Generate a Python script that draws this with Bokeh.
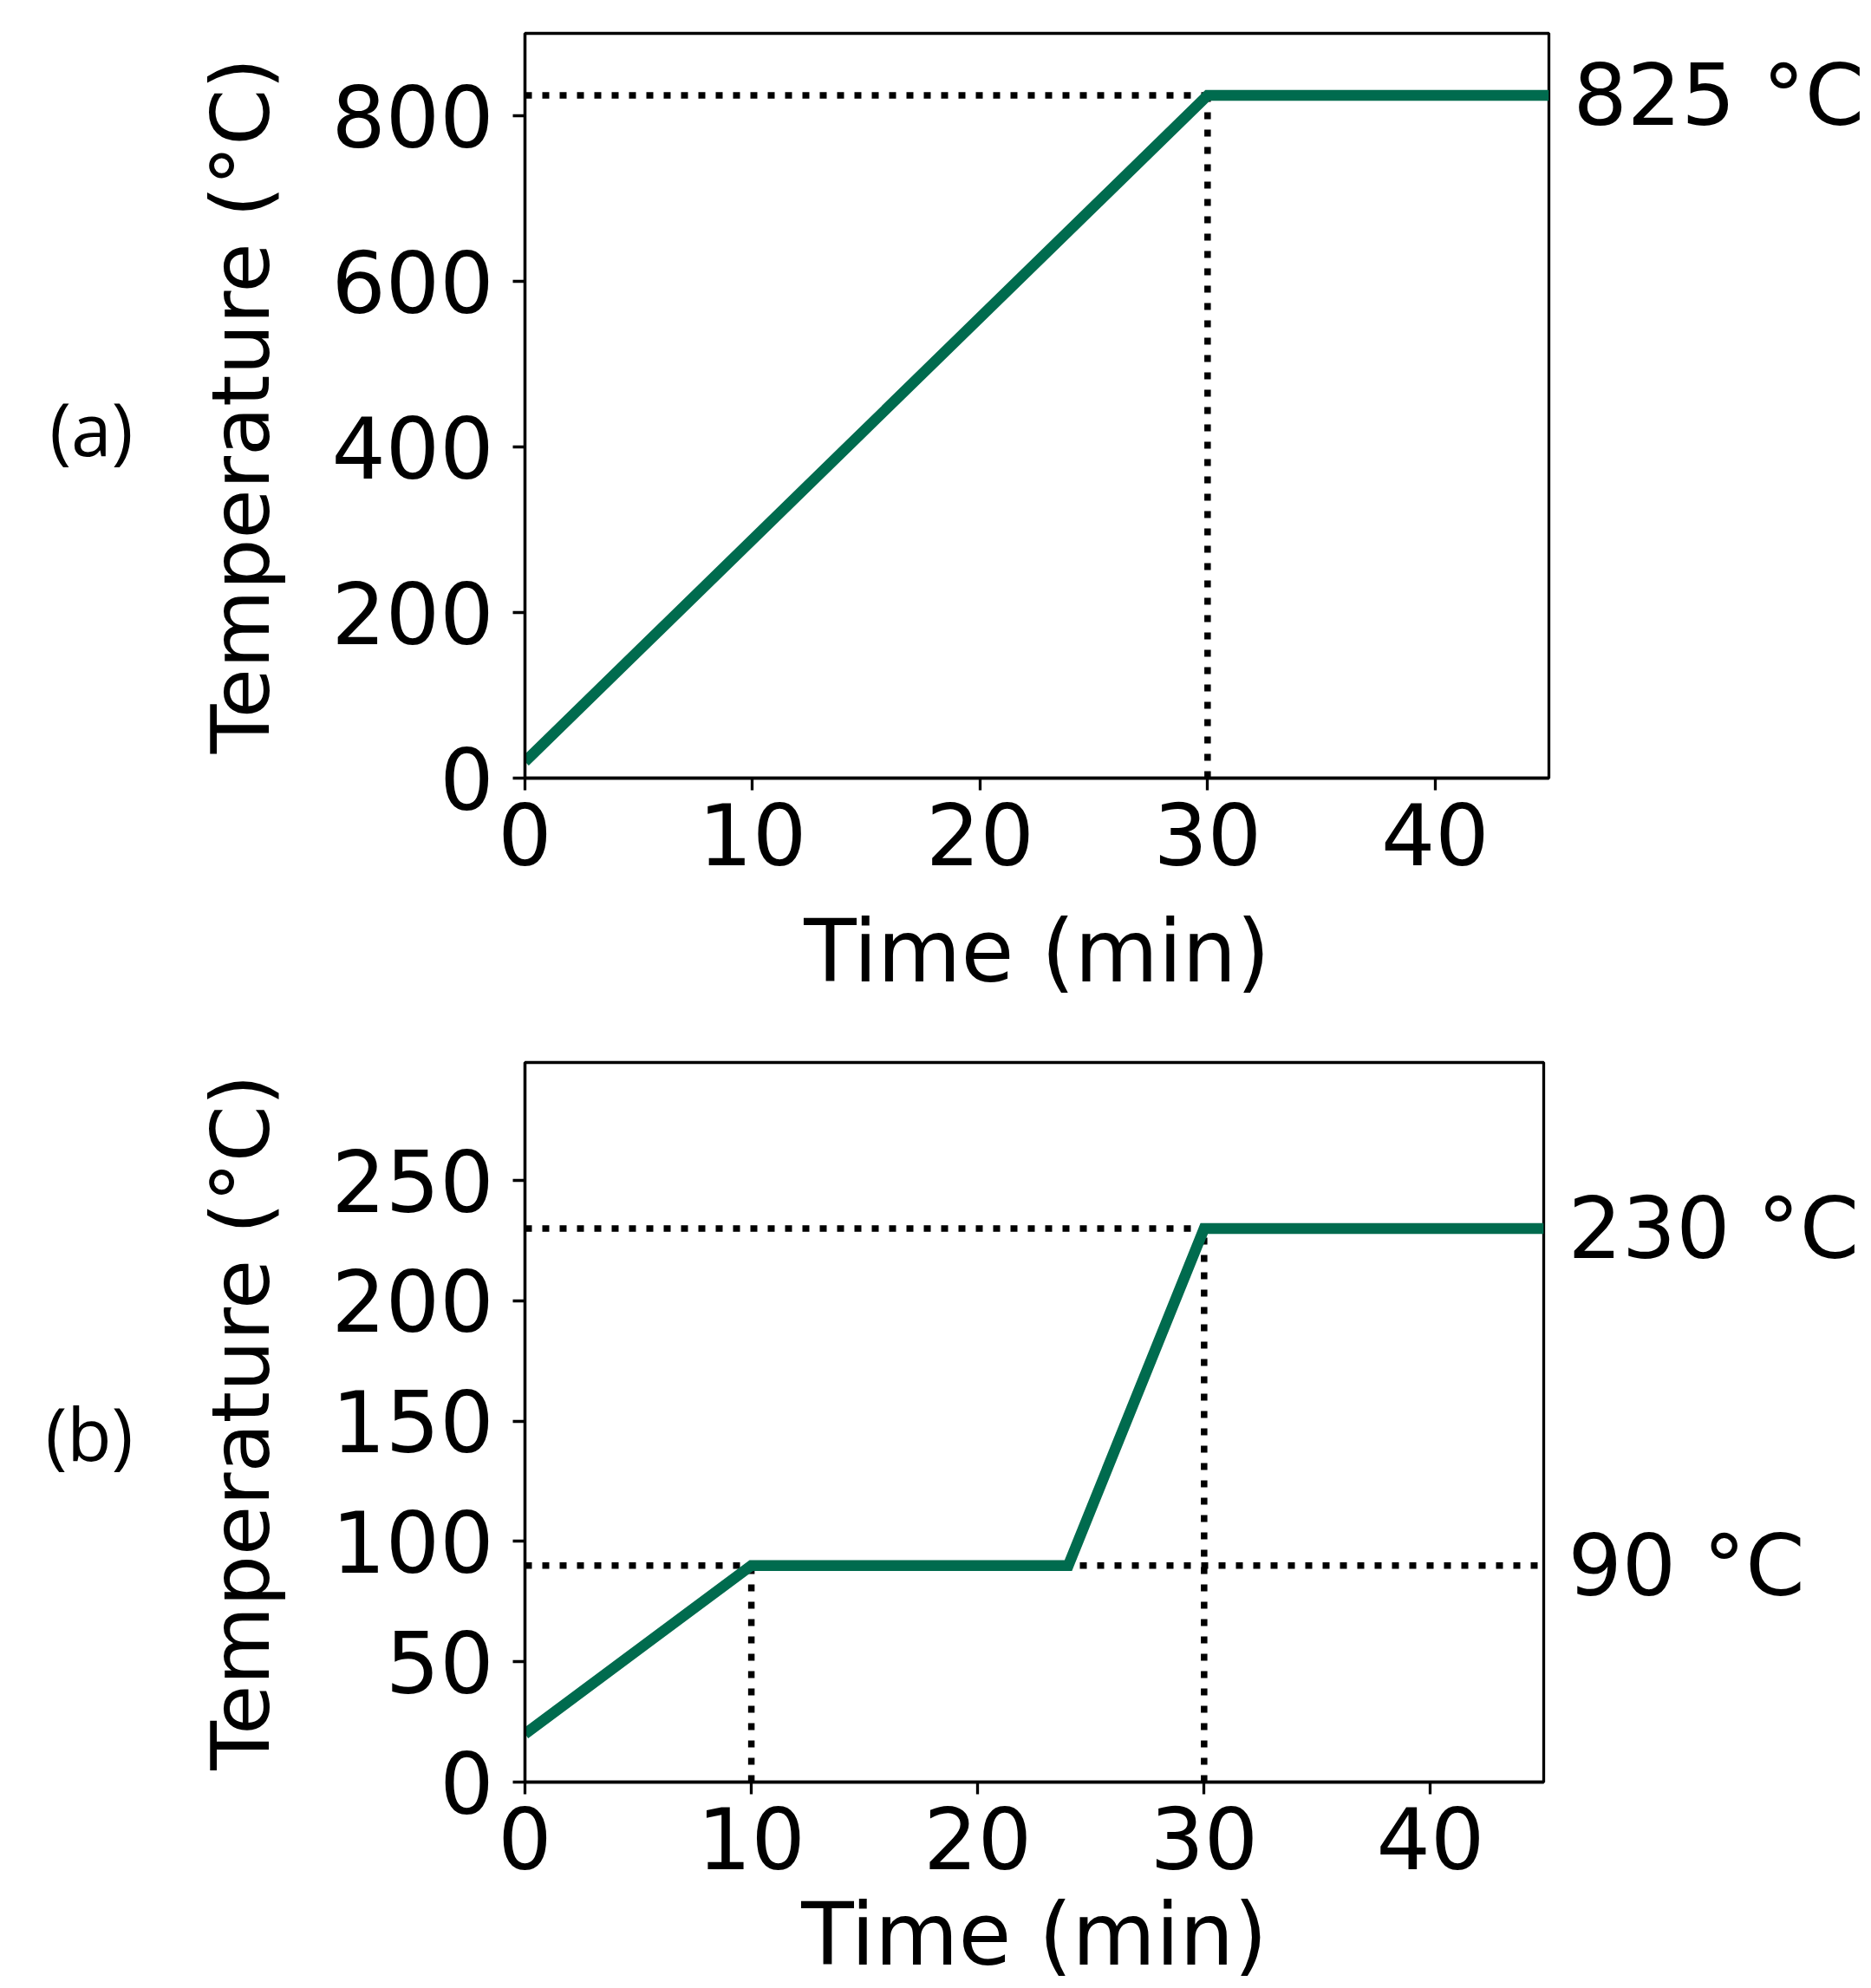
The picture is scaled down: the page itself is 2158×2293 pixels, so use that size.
from bokeh.plotting import figure
from bokeh.models import Range1d, FixedTicker, LinearAxis
from bokeh.layouts import column
from bokeh.embed import file_html
from bokeh.resources import INLINE

# ---- data ----
time_a = [0, 30, 45]
temp_a = [20, 825, 825]
time_b = [0, 10, 24, 30, 45]
temp_b = [20, 90, 90, 230, 230]
x_ticks = [0, 10, 20, 30, 40]
y_ticks_a = [0, 200, 400, 600, 800]
y_ticks_b = [0, 50, 100, 150, 200, 250]
hold_a = [825]
hold_b = [90, 230]
ramp_end_a = 30
ramp_end_b = [10, 30]
x_max = 45
y_max_a = 900
y_max_b = 299
panel_names = ["(a)", "(b)"]
panel_name_y = [423, 145]
x_title = "Time (min)"
y_title = "Temperature (°C)"

GREEN = "#006b4e"
FONT = "DejaVu Sans"
TICK_PX = "98px"
XLABEL_PX = "99px"
YLABEL_PX = "93px"
RIGHT_PX = "98px"


def style(p, yticks, xlabel_standoff):
    p.xgrid.visible = False
    p.ygrid.visible = False
    p.outline_line_color = "black"
    p.outline_line_width = 3.3
    p.background_fill_color = "white"
    p.border_fill_color = "white"
    for ax in (p.xaxis[0], p.yaxis[0]):
        ax.axis_line_width = 3.3
        ax.major_tick_line_width = 3.3
        ax.major_tick_out = 14
        ax.major_tick_in = 0
        ax.minor_tick_line_color = None
        ax.major_label_text_font = FONT
        ax.major_label_text_font_size = TICK_PX
        ax.major_label_text_color = "black"
        ax.axis_label_text_font = FONT
        ax.axis_label_text_font_style = "normal"
        ax.axis_label_text_color = "black"
    p.xaxis[0].ticker = FixedTicker(ticks=x_ticks)
    p.yaxis[0].ticker = FixedTicker(ticks=yticks)
    p.yaxis[0].major_label_standoff = 22
    p.yaxis[0].axis_label_standoff = 47
    p.yaxis[0].axis_label = y_title
    p.yaxis[0].axis_label_text_font_size = YLABEL_PX
    p.xaxis[0].major_label_standoff = 14
    p.xaxis[0].axis_label = x_title
    p.xaxis[0].axis_label_text_font_size = XLABEL_PX
    p.xaxis[0].axis_label_standoff = xlabel_standoff


def right_labels(p, temps, standoff):
    ax = LinearAxis(ticker=FixedTicker(ticks=temps),
                    major_label_overrides={t: f"{t} °C" for t in temps},
                    axis_line_color=None, major_tick_line_color=None,
                    minor_tick_line_color=None, major_tick_out=0, major_tick_in=0,
                    major_label_standoff=standoff,
                    major_label_text_font=FONT, major_label_text_font_size=RIGHT_PX,
                    major_label_text_color="black")
    p.add_layout(ax, "right")


def panel_label(p, name, y):
    ax = LinearAxis(ticker=FixedTicker(ticks=[y]),
                    major_label_overrides={y: name},
                    axis_line_color=None, major_tick_line_color=None,
                    minor_tick_line_color=None, major_tick_out=0, major_tick_in=0,
                    major_label_standoff=68,
                    major_label_text_font="Open Sans", major_label_text_font_size="84px",
                    major_label_text_color="black")
    p.add_layout(ax, "left")


dot = dict(line_color="black", line_width=7.5, line_dash="8 12", line_cap="butt")

# ---- panel (a) ----
pa = figure(width=2158, height=1185, x_range=Range1d(0, x_max), y_range=Range1d(0, y_max_a),
            output_backend="svg", toolbar_location=None,
            min_border_left=605, min_border_right=372, min_border_top=38, min_border_bottom=288)
style(pa, y_ticks_a, 39)
pa.line([0, ramp_end_a], [hold_a[0], hold_a[0]], **dot)
pa.line([ramp_end_a, ramp_end_a], [0, hold_a[0]], **dot)
pa.line(time_a, temp_a, line_color=GREEN, line_width=12.5, line_join="miter")
right_labels(pa, hold_a, 28)
panel_label(pa, panel_names[0], panel_name_y[0])

# ---- panel (b) ----
pb = figure(width=2152, height=1108, x_range=Range1d(0, x_max), y_range=Range1d(0, y_max_b),
            output_backend="svg", toolbar_location=None,
            min_border_left=605, min_border_right=372, min_border_top=40, min_border_bottom=238)
style(pb, y_ticks_b, 15)
pb.line([0, ramp_end_b[1]], [hold_b[1], hold_b[1]], **dot)
pb.line([ramp_end_b[1], ramp_end_b[1]], [0, hold_b[1]], **dot)
pb.line([0, x_max], [hold_b[0], hold_b[0]], **dot)
pb.line([ramp_end_b[0], ramp_end_b[0]], [0, hold_b[0]], **dot)
pb.line(time_b, temp_b, line_color=GREEN, line_width=12.5, line_join="miter")
right_labels(pb, hold_b, 28)
panel_label(pb, panel_names[1], panel_name_y[1])

layout = column(pa, pb, spacing=0)
open("out.html", "w").write(file_html(layout, INLINE))
